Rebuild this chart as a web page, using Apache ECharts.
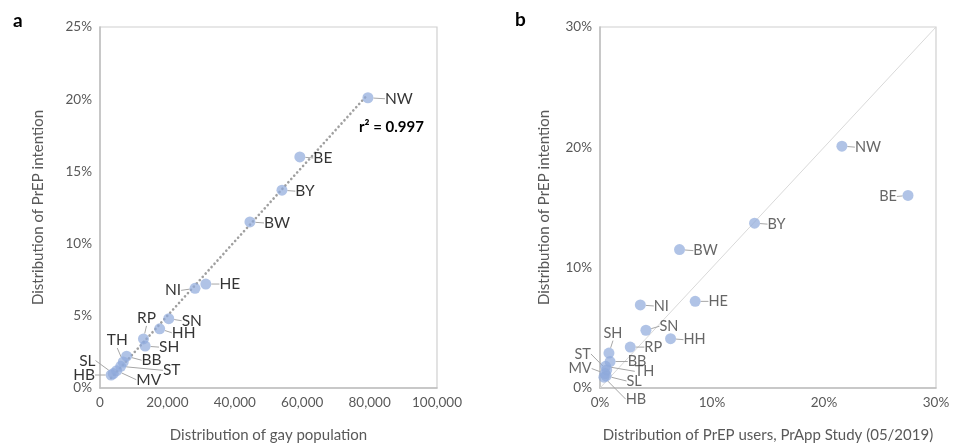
<!DOCTYPE html>
<html>
<head>
<meta charset="utf-8">
<script src="https://cdn.jsdelivr.net/npm/echarts@6/dist/echarts.min.js"></script>
<style>
  html, body { margin: 0; padding: 0; background: #fff; }
  #main { width: 971px; height: 448px; }
</style>
</head>
<body>
<div id="main"></div>
<script>
// federal states
const regions = ['NW', 'BE', 'BY', 'BW', 'HE', 'NI', 'SN', 'HH', 'RP', 'SH', 'BB', 'TH', 'ST', 'MV', 'SL', 'HB'];
// distribution of gay population (persons)
const gayPopulation = [79500, 59300, 54000, 44500, 31400, 28200, 20400, 17700, 12900, 13400, 7900, 6900, 6150, 4950, 3950, 3300];
// distribution of PrEP intention (%)
const prepIntention = [20.1, 16.0, 13.7, 11.5, 7.2, 6.9, 4.8, 4.1, 3.4, 2.9, 2.2, 1.8, 1.5, 1.2, 1.0, 0.9];
// distribution of PrEP users, PrApp study (%)
const prepUsers = [21.6, 27.5, 13.8, 7.1, 8.5, 3.6, 4.1, 6.3, 2.7, 0.8, 0.9, 0.5, 0.6, 0.45, 0.55, 0.35];

const xTicksA = [0, 20000, 40000, 60000, 80000, 100000];
const yTicksA = [0, 5, 10, 15, 20, 25];
const ticksB = [0, 10, 20, 30];
const identityLine = [[0, 0], [30, 30]];
const rSquared = '0.997';

// label offsets (px) relative to the point, panel a / panel b
const offA = {
  NW: [31, 1], BE: [23, 1], BY: [23, 1], BW: [27, 1], HE: [24, 0], NI: [-22, 2],
  SN: [23, 2], HH: [24, 4], RP: [3, -21], SH: [24, 1], BB: [25, 4], TH: [-6, -22],
  ST: [51, 4], MV: [32, 9], SL: [-26, -13], HB: [-27, 0]
};
const offB = {
  NW: [26, 1], BE: [-20, 1], BY: [22, 1], BW: [26, 1], HE: [23, 0], NI: [21, 1],
  SN: [23, -4], HH: [24, 1], RP: [23, 0], SH: [4, -20], BB: [27, 0], TH: [39, 5],
  ST: [-24, -16], MV: [-25, -5], SL: [28, 5], HB: [32, 22]
};

// least-squares trendline for panel a
let n = gayPopulation.length, sx = 0, sy = 0, sxx = 0, sxy = 0;
gayPopulation.forEach(function (x, i) {
  sx += x; sy += prepIntention[i]; sxx += x * x; sxy += x * prepIntention[i];
});
const slope = (n * sxy - sx * sy) / (n * sxx - sx * sx);
const icpt = (sy - slope * sx) / n;
const xMin = Math.min.apply(null, gayPopulation), xMax = Math.max.apply(null, gayPopulation);
const trend = [[xMin, icpt + slope * xMin], [xMax, icpt + slope * xMax]];

const FONT = 'Lato, "Open Sans", sans-serif';
const gray = '#595959';
const dotColor = 'rgba(143, 170, 220, 0.88)';

function axisBase(min, max, interval, fmt) {
  return {
    type: 'value', min: min, max: max, interval: interval,
    splitLine: { show: false },
    axisTick: { show: false },
    axisLine: { show: true, lineStyle: { color: '#bfbfbf', width: 1.5 } },
    axisLabel: { color: gray, fontSize: 13.5, fontFamily: FONT, formatter: fmt },
    nameLocation: 'middle',
    nameTextStyle: { color: gray, fontSize: 15, fontFamily: FONT }
  };
}

function layoutFor(offsets) {
  return function (p) {
    const o = offsets[regions[p.dataIndex]];
    return {
      x: p.rect.x + p.rect.width / 2 + o[0],
      y: p.rect.y + p.rect.height / 2 + o[1],
      align: 'center',
      verticalAlign: 'middle'
    };
  };
}

const pointsA = gayPopulation.map(function (x, i) { return [x, prepIntention[i]]; });
const pointsB = prepUsers.map(function (x, i) { return [x, prepIntention[i]]; });

const option = {
  animation: false,
  textStyle: { fontFamily: FONT },
  grid: [
    { left: 100, top: 27, width: 337, height: 361, show: true, borderColor: '#d0d0d0', borderWidth: 1.2 },
    { left: 600, top: 27, width: 336, height: 361, show: true, borderColor: '#d0d0d0', borderWidth: 1.2 }
  ],
  xAxis: [
    Object.assign(axisBase(xTicksA[0], xTicksA[xTicksA.length - 1], xTicksA[1] - xTicksA[0],
      function (v) { return v.toLocaleString('en-US'); }),
      { gridIndex: 0, name: 'Distribution of gay population', nameGap: 40 }),
    Object.assign(axisBase(ticksB[0], ticksB[ticksB.length - 1], ticksB[1] - ticksB[0], '{value}%'),
      { gridIndex: 1, name: 'Distribution of PrEP users, PrApp Study (05/2019)', nameGap: 40 })
  ],
  yAxis: [
    Object.assign(axisBase(yTicksA[0], yTicksA[yTicksA.length - 1], yTicksA[1] - yTicksA[0], '{value}%'),
      { gridIndex: 0, name: 'Distribution of PrEP intention', nameGap: 54 }),
    Object.assign(axisBase(ticksB[0], ticksB[ticksB.length - 1], ticksB[1] - ticksB[0], '{value}%'),
      { gridIndex: 1, name: 'Distribution of PrEP intention', nameGap: 48 })
  ],
  graphic: [
    { type: 'text', left: 13, top: 11, style: { text: 'a', font: 'bold 19px ' + FONT, fill: '#000' } },
    { type: 'text', left: 515, top: 10, style: { text: 'b', font: 'bold 19px ' + FONT, fill: '#000' } },
    { type: 'text', left: 359, top: 120, style: { text: 'r² = ' + rSquared, font: 'bold 15px ' + FONT, fill: '#000' } }
  ],
  series: [
    {
      type: 'line', xAxisIndex: 0, yAxisIndex: 0, data: trend,
      symbol: 'none', silent: true, z: 1,
      lineStyle: { color: '#a0a0a0', width: 2.6, type: [0.1, 4.3], cap: 'round' }
    },
    {
      type: 'line', xAxisIndex: 1, yAxisIndex: 1, data: identityLine,
      symbol: 'none', silent: true, z: 1,
      lineStyle: { color: '#d9d9d9', width: 1 }
    },
    {
      type: 'scatter', xAxisIndex: 0, yAxisIndex: 0, data: pointsA,
      symbolSize: 11, z: 3,
      itemStyle: { color: dotColor },
      label: {
        show: true, position: 'inside', color: '#000', fontSize: 15.5, fontFamily: FONT,
        formatter: function (p) { return regions[p.dataIndex]; }
      },
      labelLine: { show: true, lineStyle: { color: '#a6a6a6', width: 1 } },
      labelLayout: layoutFor(offA)
    },
    {
      type: 'scatter', xAxisIndex: 1, yAxisIndex: 1, data: pointsB,
      symbolSize: 11, z: 3,
      itemStyle: { color: dotColor },
      label: {
        show: true, position: 'inside', color: '#404040', fontSize: 14.5, fontFamily: FONT,
        formatter: function (p) { return regions[p.dataIndex]; }
      },
      labelLine: { show: true, lineStyle: { color: '#a6a6a6', width: 1 } },
      labelLayout: layoutFor(offB)
    }
  ]
};

const chart = echarts.init(document.getElementById('main'));
chart.setOption(option);
</script>
</body>
</html>
